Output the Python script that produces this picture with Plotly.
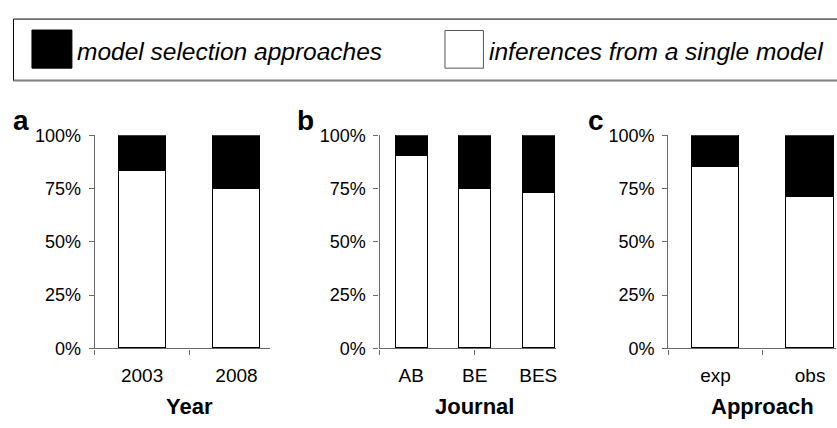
import plotly.graph_objects as go

W, H = 837, 428

# ---- data ----
series_names = ["model selection approaches", "inferences from a single model"]

year_cats = ["2003", "2008"]
year_single = [83.3, 74.6]
year_modelsel = [16.7, 25.4]

journal_cats = ["AB", "BE", "BES"]
journal_single = [90.3, 74.6, 72.8]
journal_modelsel = [9.7, 25.4, 27.2]

approach_cats = ["exp", "obs"]
approach_single = [85.1, 71.1]
approach_modelsel = [14.9, 28.9]

panel_letters = ["a", "b", "c"]
axis_titles = ["Year", "Journal", "Approach"]
y_ticks = [0, 25, 50, 75, 100]
y_ticklabels = ["0%", "25%", "50%", "75%", "100%"]

FONT = "Liberation Sans, Arial, sans-serif"
AXC = "#6a6a6a"


def px(x):
    return x / W


def py(y):
    return 1 - y / H


panels = [
    dict(cats=year_cats, single=year_single, sel=year_modelsel,
         dom=(95, 270), rng=(-0.5, 1.352), minor=[-0.5, 0.5], tmid=0.5, lx=11),
    dict(cats=journal_cats, single=journal_single, sel=journal_modelsel,
         dom=(380, 556.7), rng=(-0.5, 2.28), minor=[-0.5, 1.0], tmid=1.0, lx=295),
    dict(cats=approach_cats, single=approach_single, sel=approach_modelsel,
         dom=(669, 837), rng=(-0.5, 1.274), minor=[-0.5, 0.5], tmid=0.5, lx=587),
]

fig = go.Figure()
annotations = []
shapes = []

ydom = (py(355), py(131.5))

for i, p in enumerate(panels):
    n = i + 1
    xa = "x" if n == 1 else f"x{n}"
    ya = "y" if n == 1 else f"y{n}"
    xpos = list(range(len(p["cats"])))
    fig.add_trace(go.Bar(x=xpos, y=p["single"], name=series_names[1], width=0.5,
                         marker=dict(color="white", line=dict(color="black", width=1)),
                         xaxis=xa, yaxis=ya, showlegend=False))
    fig.add_trace(go.Bar(x=xpos, y=p["sel"], name=series_names[0], width=0.5,
                         marker=dict(color="black", line=dict(color="black", width=1)),
                         xaxis=xa, yaxis=ya, showlegend=False))
    xkey = "xaxis" if n == 1 else f"xaxis{n}"
    ykey = "yaxis" if n == 1 else f"yaxis{n}"
    fig.update_layout(**{
        xkey: dict(domain=[px(p["dom"][0]), px(p["dom"][1])], range=list(p["rng"]),
                   anchor=ya, showgrid=False, zeroline=False, showline=True,
                   linecolor=AXC, linewidth=1.3, ticks="",
                   tickmode="array", tickvals=xpos, ticktext=p["cats"],
                   ticklabelstandoff=10,
                   tickfont=dict(family=FONT, size=19, color="black"),
                   minor=dict(tickmode="array", tickvals=p["minor"], ticks="outside",
                              ticklen=5, tickwidth=1.3, tickcolor=AXC),
                   fixedrange=True),
        ykey: dict(domain=list(ydom), range=[0, 100], anchor=xa, showgrid=False,
                   zeroline=False, showline=True, linecolor=AXC, linewidth=1.3,
                   ticks="outside", ticklen=5, tickwidth=1.3, tickcolor=AXC,
                   tickmode="array", tickvals=y_ticks, ticktext=y_ticklabels,
                   ticklabelstandoff=4,
                   tickfont=dict(family=FONT, size=18, color="black"),
                   fixedrange=True),
    })
    annotations.append(dict(text=f"<b>{panel_letters[i]}</b>", xref="paper", yref="paper",
                            x=px(p["lx"]), y=py(115.5), xanchor="left", yanchor="middle",
                            showarrow=False, font=dict(family=FONT, size=28, color="black")))
    annotations.append(dict(text=f"<b>{axis_titles[i]}</b>", xref=xa, yref="paper",
                            x=p["tmid"], y=py(415.5), xanchor="center", yanchor="middle",
                            showarrow=False, font=dict(family=FONT, size=22, color="black")))

# ---- legend drawn as a boxed key ----
shapes.append(dict(type="rect", xref="paper", yref="paper", x0=px(13.5), x1=px(850),
                   y0=py(74), y1=py(9.5), line=dict(color="black", width=1), fillcolor="white",
                   layer="below"))
shapes.append(dict(type="line", xref="paper", yref="paper", x0=px(13.5), x1=px(850),
                   y0=py(74), y1=py(74), line=dict(color="#808080", width=2)))
shapes.append(dict(type="rect", xref="paper", yref="paper", x0=px(32), x1=px(72),
                   y0=py(61), y1=py(21), line=dict(color="black", width=1), fillcolor="black"))
shapes.append(dict(type="rect", xref="paper", yref="paper", x0=px(445.5), x1=px(484),
                   y0=py(61), y1=py(21.5), line=dict(color="#555", width=1), fillcolor="white"))
annotations.append(dict(text=f"<i>{series_names[0]}</i>", xref="paper", yref="paper",
                        x=px(75), y=py(44), xanchor="left", yanchor="middle", showarrow=False,
                        font=dict(family=FONT, size=24.5, color="black")))
annotations.append(dict(text=f"<i>{series_names[1]}</i>", xref="paper", yref="paper",
                        x=px(488), y=py(44), xanchor="left", yanchor="middle", showarrow=False,
                        font=dict(family=FONT, size=24.5, color="black")))

fig.update_layout(width=W, height=H, margin=dict(l=0, r=0, t=0, b=0),
                  paper_bgcolor="white", plot_bgcolor="white", barmode="stack",
                  bargap=0, showlegend=False, annotations=annotations, shapes=shapes,
                  font=dict(family=FONT, color="black"))

fig.write_html("out.html", config={"displayModeBar": False},
               post_script="document.body.style.margin='0';document.body.style.padding='0';"
                           "document.body.style.overflow='hidden';")
